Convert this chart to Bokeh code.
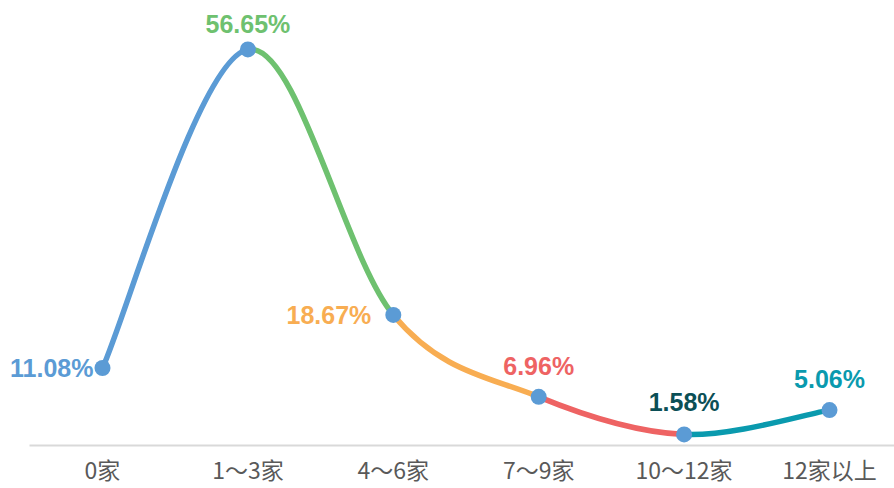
from bokeh.plotting import figure
from bokeh.models import ColumnDataSource, Range1d, FixedTicker
from bokeh.core.properties import value
from bokeh.embed import file_html
from bokeh.resources import INLINE

# ---- data ----
categories = ["0家", "1～3家", "4～6家", "7～9家", "10～12家", "12家以上"]
shares = [11.08, 56.65, 18.67, 6.96, 1.58, 5.06]
label_texts = ["11.08%", "56.65%", "18.67%", "6.96%", "1.58%", "5.06%"]

# ---- styles ----
segment_colors = ["#5b9bd5", "#6ec16f", "#f8ad52", "#ee6363", "#0a9aae"]
label_colors = ["#5b9bd5", "#6ec16f", "#f8ad52", "#ee6363", "#0b4f56", "#0a9aae"]
label_align = ["right", "center", "right", "center", "center", "center"]
label_dx = [-9, 0, -22, 0, 0, 0]
label_dy = [0, -25, 0, -31, -32, -31]

xs = list(range(len(categories)))

p = figure(width=894, height=488, output_backend="svg", toolbar_location=None,
           x_range=Range1d(-0.7015, 5.447), y_range=Range1d(0, 63.64),
           min_border_left=0, min_border_right=0, min_border_top=0, min_border_bottom=43)
p.outline_line_color = None
p.grid.visible = False
p.yaxis.visible = False
p.background_fill_color = "white"
p.border_fill_color = "white"

# smooth curve: cubic bezier segments (Catmull-Rom style control points)
n = len(xs)
def pt(i):
    i = max(0, min(n - 1, i))
    return xs[i], shares[i]

seg = dict(x0=[], y0=[], x1=[], y1=[], cx0=[], cy0=[], cx1=[], cy1=[], color=[])
for i in range(n - 1):
    xa, ya = pt(i)
    xb, yb = pt(i + 1)
    xp, yp = pt(i - 1)
    xn, yn = pt(i + 2)
    seg["x0"].append(xa); seg["y0"].append(ya)
    seg["x1"].append(xb); seg["y1"].append(yb)
    seg["cx0"].append(xa + (xb - xp) / 6); seg["cy0"].append(ya + (yb - yp) / 6)
    seg["cx1"].append(xb - (xn - xa) / 6); seg["cy1"].append(yb - (yn - ya) / 6)
    seg["color"].append(segment_colors[i])

p.bezier(x0="x0", y0="y0", x1="x1", y1="y1", cx0="cx0", cy0="cy0", cx1="cx1", cy1="cy1",
         line_color="color", line_width=5.5, line_cap="round", source=ColumnDataSource(seg))

pts = ColumnDataSource(dict(x=xs, y=shares, text=label_texts, color=label_colors,
                            align=label_align, dx=label_dx, dy=label_dy))
p.scatter("x", "y", size=16, fill_color="#5b9bd5", line_color=None, source=pts)
p.text("x", "y", text="text", text_color="color", text_align="align", text_baseline="middle",
       x_offset="dx", y_offset="dy", text_font=value("Liberation Sans"), text_font_style="bold",
       text_font_size="25px", source=pts)

ax = p.xaxis[0]
ax.ticker = FixedTicker(ticks=xs)
ax.bounds = (-0.5, 5.447)
ax.major_label_overrides = {i: c for i, c in zip(xs, categories)}
ax.major_tick_line_color = None
ax.minor_tick_line_color = None
ax.axis_line_color = "#d9d9d9"
ax.axis_line_width = 2
ax.major_label_text_font = "Noto Sans CJK SC"
ax.major_label_text_font_size = "23px"
ax.major_label_text_color = "#595959"
ax.major_label_standoff = 0

open("out.html", "w").write(file_html(p, INLINE))
